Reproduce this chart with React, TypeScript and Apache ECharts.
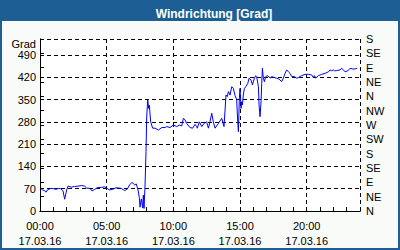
import React, { useEffect, useRef } from 'react';
import * as echarts from 'echarts';

const hours = [
  0.0, 0.1, 0.2, 0.35, 0.45, 0.55, 0.8, 1.0, 1.2, 1.4, 1.55, 1.72, 1.85, 2.0, 2.1, 2.35, 2.6, 2.85,
  3.1, 3.35, 3.5, 3.75, 3.9, 4.1, 4.35, 4.6, 4.85, 5.03, 5.2, 5.45, 5.7, 6.1, 6.35, 6.55, 6.72, 6.9,
  7.1, 7.22, 7.35, 7.45, 7.5, 7.6, 7.7, 7.75, 7.8, 7.88, 7.95, 8.0, 8.08, 8.15, 8.2, 8.3, 8.45, 8.63,
  8.88, 9.13, 9.38, 9.5, 9.75, 10.0, 10.25, 10.45, 10.63, 10.75, 10.88, 11.0, 11.25, 11.45, 11.63,
  11.75, 11.8, 11.95, 12.13, 12.3, 12.5, 12.63, 12.75, 12.88, 13.0, 13.13, 13.38, 13.63, 13.8, 13.95,
  14.05, 14.13, 14.25, 14.38, 14.5, 14.63, 14.75, 14.83, 14.88, 14.95, 15.0, 15.08, 15.13, 15.18,
  15.25, 15.33, 15.43, 15.58, 15.68, 15.83, 15.93, 16.08, 16.18, 16.25, 16.38, 16.43, 16.5, 16.58,
  16.63, 16.68, 16.75, 16.83, 16.93, 17.08, 17.25, 17.38, 17.58, 17.75, 17.93, 18.13, 18.25, 18.38,
  18.5, 18.63, 18.75, 18.88, 19.08, 19.25, 19.38, 19.63, 19.88, 20.13, 20.38, 20.5, 20.58, 20.68,
  20.88, 21.13, 21.38, 21.63, 21.75, 21.88, 22.0, 22.08, 22.25, 22.5, 22.63, 22.75, 22.88, 23.08,
  23.25, 23.43, 23.63, 23.78,
];

const degrees = [
  68, 69, 66, 64, 59, 66, 71, 70, 68, 71, 70, 64, 37, 66, 78, 75, 77, 78,
  80, 78, 72, 71, 63, 68, 74, 74, 76, 71, 66, 68, 73, 71, 64, 69, 82, 90,
  82, 85, 66, 42, 12, 38, 10, 50, 8, 82, 186, 292, 349, 322, 332, 280, 260, 260,
  254, 262, 262, 265, 262, 270, 265, 270, 267, 291, 286, 275, 262, 260, 272,
  265, 260, 280, 265, 275, 280, 260, 280, 307, 280, 260, 275, 291, 265, 364,
  359, 375, 364, 390, 385, 362, 350, 280, 249, 352, 385, 322, 343, 333,
  364, 385, 390, 400, 417, 411, 396, 417, 425, 422, 390, 333, 296, 343,
  401, 448, 417, 406, 422, 425, 417, 422, 419, 417, 414, 406, 417, 432,
  443, 437, 432, 422, 422, 417, 419, 425, 429, 429, 427, 419, 425, 417,
  425, 429, 432, 437, 443, 440, 443, 440, 441, 443, 448, 443, 437, 440,
  448, 446, 446, 448,
];

const timeLabels = ['00:00', '05:00', '10:00', '15:00', '20:00'];
const dateLabel = '17.03.16';
const directionLabels = ['N', 'NE', 'E', 'SE', 'S', 'SW', 'W', 'NW', 'N', 'NE', 'E', 'SE', 'S'];
const titleText = 'Windrichtung [Grad]';
const unitText = 'Grad';

const FONT = '"Liberation Sans", Arial, sans-serif';

export default function App() {
  const ref = useRef<HTMLDivElement>(null);

  useEffect(() => {
    if (!ref.current) return;
    const chart = echarts.init(ref.current, undefined, { renderer: 'svg' });
    const data = hours.map((h, i) => [h, degrees[i]]);
    chart.setOption({
      animation: false,
      backgroundColor: '#F8FBF8',
      textStyle: { fontFamily: FONT },
      title: {
        text: titleText,
        left: 209,
        top: 3,
        textAlign: 'center',
        textStyle: { color: '#FFFFFF', fontSize: 12, fontWeight: 'bold', fontFamily: FONT },
        z: 10,
      },
      graphic: [
        {
          type: 'rect',
          shape: { x: 0, y: 0, width: 400, height: 21 },
          style: { fill: '#1D5F94' },
          z: 1,
        },
        {
          type: 'rect',
          shape: { x: 1, y: 1, width: 398, height: 248 },
          style: { fill: 'none', stroke: '#1D5F94', lineWidth: 2 },
          z: 1,
        },
        {
          type: 'text',
          x: 36,
          y: 44,
          style: {
            text: unitText,
            fill: '#000',
            font: '11px ' + FONT,
            lineHeight: 11,
            textAlign: 'right',
            textVerticalAlign: 'middle',
          },
        },
      ],
      grid: {
        left: 40,
        right: 40,
        top: 39,
        bottom: 39,
        show: true,
        backgroundColor: '#FFFFFF',
        borderWidth: 0,
      },
      xAxis: [
        {
          type: 'value',
          min: 0,
          max: 24,
          interval: 5,
          axisLine: { show: true, lineStyle: { color: '#000', width: 1 } },
          axisTick: { show: true, inside: true, length: 4, lineStyle: { color: '#000' } },
          minorTick: { show: true, splitNumber: 5, length: 4, lineStyle: { color: '#000' } },
          splitLine: { show: true, lineStyle: { color: '#000', type: [4, 3], width: 1 } },
          showMaxLabel: false,
          axisLabel: {
            color: '#000',
            fontSize: 11,
            fontFamily: FONT,
            lineHeight: 15,
            margin: 7,
            formatter: (v: number) => {
              const i = Math.round(v / 5);
              if (Math.abs(v - i * 5) > 1e-6 || i >= timeLabels.length) return '';
              return timeLabels[i] + '\n' + dateLabel;
            },
          },
        },
        {
          type: 'value',
          position: 'top',
          min: 0,
          max: 24,
          axisLine: { show: true, lineStyle: { color: '#000', width: 1 } },
          axisTick: { show: false },
          axisLabel: { show: false },
          splitLine: { show: false },
        },
      ],
      yAxis: [
        {
          type: 'value',
          min: 0,
          max: 540,
          interval: 70,
          axisLine: { show: true, lineStyle: { color: '#000', width: 1 } },
          axisTick: { show: false },
          splitLine: { show: true, lineStyle: { color: '#000', type: [4, 3], width: 1 } },
          showMaxLabel: false,
          axisLabel: {
            color: '#000',
            fontSize: 11,
            lineHeight: 11,
            fontFamily: FONT,
            margin: 4,
            padding: [2, 0, 0, 0],
            formatter: (v: number) => (v % 70 === 0 && v <= 490 ? String(v) : ''),
          },
        },
        {
          type: 'value',
          position: 'right',
          min: 0,
          max: 540,
          interval: 45,
          axisLine: { show: true, lineStyle: { color: '#000', width: 1 } },
          axisTick: { show: true, inside: false, length: 4, lineStyle: { color: '#000' } },
          splitLine: { show: false },
          axisLabel: {
            color: '#000',
            fontSize: 11,
            lineHeight: 11,
            fontFamily: FONT,
            margin: 6,
            padding: [2, 0, 0, 0],
            formatter: (v: number) => directionLabels[Math.round(v / 45)] ?? '',
          },
        },
      ],
      series: [
        {
          type: 'line',
          data,
          xAxisIndex: 0,
          yAxisIndex: 0,
          showSymbol: false,
          symbol: 'none',
          lineStyle: { color: '#0000FF', width: 1 },
          z: 5,
        },
      ],
    });
    return () => chart.dispose();
  }, []);

  return (
    <div
      ref={ref}
      style={{ position: 'fixed', left: 0, top: 0, width: 400, height: 250 }}
    />
  );
}
